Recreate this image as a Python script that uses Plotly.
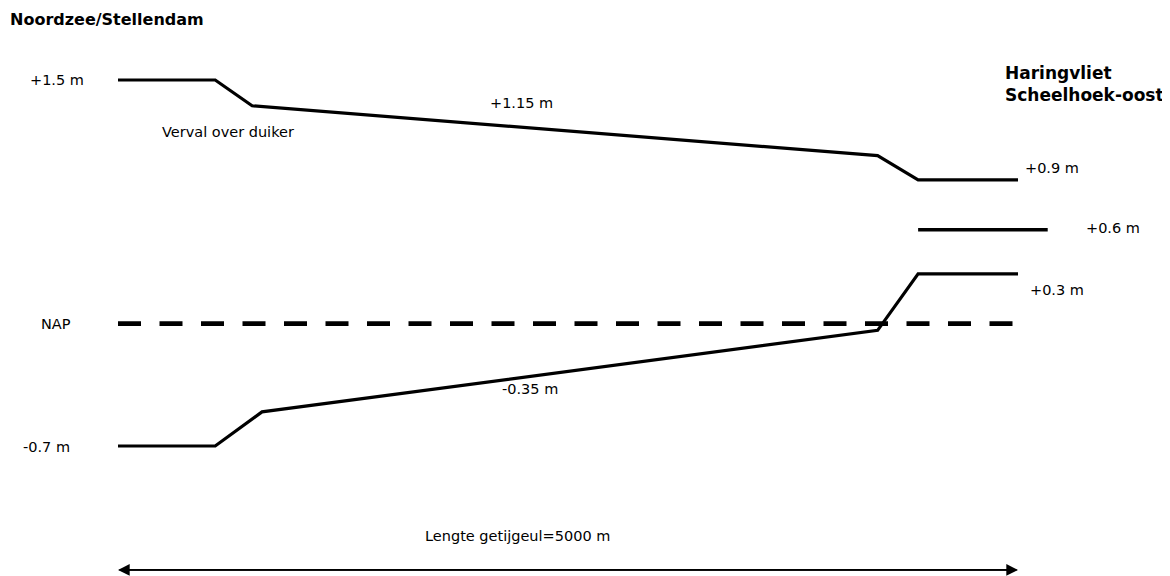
import plotly.graph_objects as go

# Schematic profile of the tidal channel (x in m along channel, y in m w.r.t. NAP)
upper_x = [0, 540, 745, 4220, 4445, 5000]
upper_y = [1.5, 1.5, 1.345, 1.045, 0.9, 0.9]

mid_x = [4445, 5165]
mid_y = [0.6, 0.6]

lower_x = [0, 540, 800, 4220, 4445, 5000]
lower_y = [-0.7, -0.7, -0.495, -0.005, 0.335, 0.335]

nap_x = [0, 5000]
nap_y = [0.035, 0.035]

channel_length = 5000
arrow_y = -1.445

FONT = "DejaVu Sans, Arial, sans-serif"

fig = go.Figure()
line_style = dict(color="black", width=3.2)
fig.add_trace(go.Scatter(x=upper_x, y=upper_y, mode="lines", line=line_style, hoverinfo="skip"))
fig.add_trace(go.Scatter(x=mid_x, y=mid_y, mode="lines", line=dict(color="black", width=3.6), hoverinfo="skip"))
fig.add_trace(go.Scatter(x=lower_x, y=lower_y, mode="lines", line=line_style, hoverinfo="skip"))
fig.add_trace(go.Scatter(x=nap_x, y=nap_y, mode="lines",
                         line=dict(color="black", width=4.8, dash="23px,18.5px"), hoverinfo="skip"))

# double-headed length arrow (two overlapping full-length arrows)
for end, start in ((0, channel_length), (channel_length, 0)):
    fig.add_annotation(x=end, y=arrow_y, ax=start, ay=arrow_y,
                       xref="x", yref="y", axref="x", ayref="y", text="",
                       showarrow=True, arrowhead=2, arrowsize=1.3, arrowwidth=1.8,
                       arrowcolor="black")

def label(x, y, text, size=14.5, bold=False, xanchor="center", yanchor="middle", align="center"):
    fig.add_annotation(x=x, y=y, xref="x", yref="y", text=f"<b>{text}</b>" if bold else text,
                       showarrow=False, xanchor=xanchor, yanchor=yanchor, align=align,
                       font=dict(family=FONT, size=size, color="black"))

label(-611, 1.861, "Noordzee/Stellendam", size=16, bold=True, xanchor="left")
label(4916, 1.478, "Haringvliet<br>Scheelhoek-oost", size=17, bold=True, xanchor="left", align="left")
label(-340, 1.5, "+1.5 m")
label(611, 1.19, "Verval over duiker")
label(2240, 1.36, "+1.15 m")
label(5190, 0.97, "+0.9 m")
label(5530, 0.61, "+0.6 m")
label(5215, 0.24, "+0.3 m")
label(-345, 0.035, "NAP")
label(-400, -0.705, "-0.7 m")
label(2290, -0.355, "-0.35 m")
label(2222, -1.24, "Lengte getijgeul=5000 m")

# The page body has an 8px margin, so the figure is sized and ranged to fill
# screen pixels 8..1170 x 8..576.
fig.update_layout(
    width=1162, height=568,
    margin=dict(l=0, r=0, t=0, b=0),
    paper_bgcolor="white", plot_bgcolor="white",
    showlegend=False,
    xaxis=dict(range=[-611.1, 5844.4], visible=False, fixedrange=True),
    yaxis=dict(range=[-1.4815, 1.9328], visible=False, fixedrange=True),
)

fig.write_html("out.html")
